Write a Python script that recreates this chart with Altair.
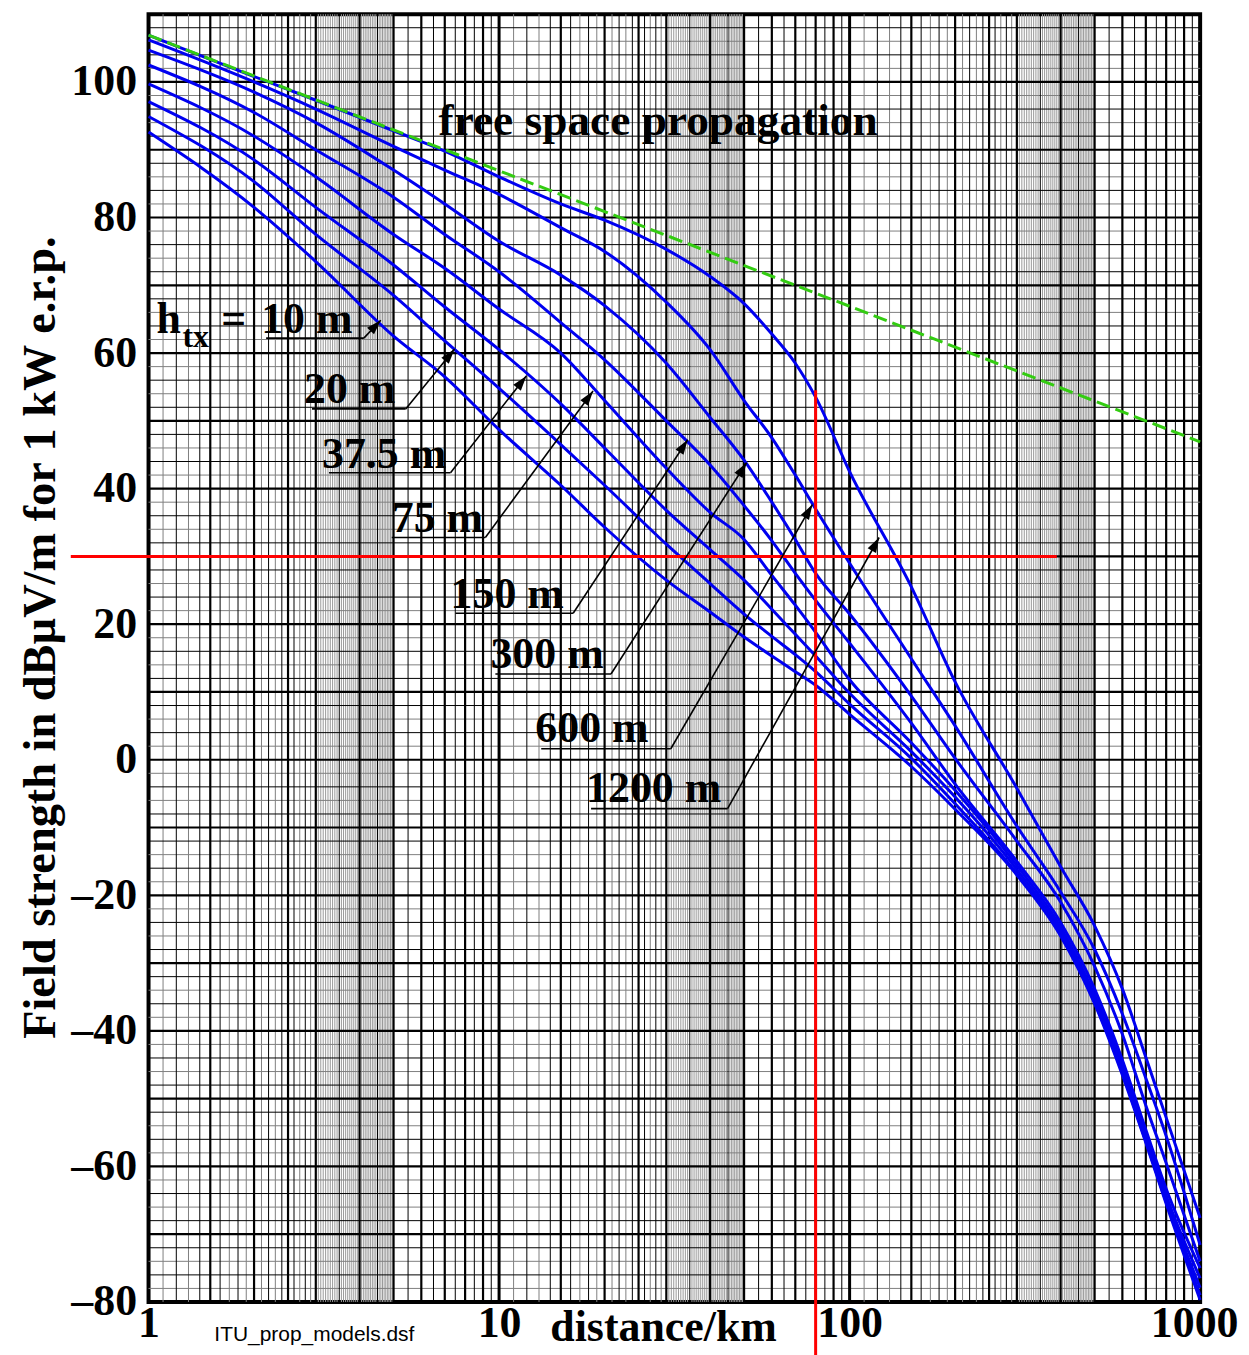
import math
import altair as alt
import pandas as pd

# ---------------- data ----------------
dist_km = [1, 2, 3, 5, 7, 10, 15, 20, 30, 40, 50, 60, 70, 80, 100, 150, 200, 300, 400, 500, 600, 700, 800, 1000]

e_10m = [92.6, 81.5, 73.5, 62.5, 56.5, 48.7, 40.5, 34.3, 26.5, 21.8, 18.1, 15.3, 13.0, 11.0, 6.7, -1.0, -7.3, -17.0, -26.0, -36.0, -46.5, -56.5, -65.5, -79.7]
e_20m = [94.9, 85.3, 77.5, 68.5, 61.8, 54.8, 46.5, 40.5, 31.8, 26.0, 21.5, 18.2, 15.5, 13.0, 8.2, 0.2, -6.5, -16.8, -25.8, -35.8, -46.2, -56.3, -65.2, -79.0]
e_37m = [97.1, 88.5, 81.5, 73.0, 66.8, 60.5, 52.5, 46.0, 36.8, 31.0, 26.5, 22.2, 18.5, 15.3, 9.8, 1.2, -5.5, -16.2, -25.3, -35.3, -45.6, -55.8, -64.8, -77.9]
e_75m = [99.7, 92.0, 86.0, 77.5, 72.5, 66.5, 60.0, 53.0, 43.0, 36.5, 32.5, 27.2, 22.8, 18.8, 11.8, 2.5, -4.5, -15.6, -24.7, -34.7, -45.0, -55.3, -64.3, -76.5]
e_150m = [102.5, 95.5, 90.0, 83.0, 77.5, 72.0, 64.5, 59.0, 50.0, 43.5, 37.5, 32.3, 27.5, 23.5, 17.2, 5.4, -3.6, -15.0, -24.0, -33.8, -44.3, -54.6, -63.3, -75.0]
e_300m = [104.7, 98.5, 94.0, 87.0, 82.0, 76.5, 71.5, 67.0, 58.5, 50.5, 44.2, 38.0, 32.5, 27.5, 21.5, 9.4, 0.2, -12.0, -21.0, -30.5, -40.5, -51.0, -59.5, -74.0]
e_600m = [106.2, 100.0, 96.0, 90.5, 87.0, 83.4, 78.5, 75.0, 67.5, 60.5, 53.0, 47.5, 42.0, 37.0, 29.0, 14.9, 5.0, -9.8, -19.5, -28.0, -37.5, -47.0, -55.5, -71.6]
e_1200m = [106.9, 100.8, 97.3, 92.8, 89.8, 86.0, 82.0, 79.6, 75.3, 71.3, 67.3, 62.8, 58.5, 53.5, 42.5, 25.5, 11.5, -4.2, -15.8, -24.5, -33.8, -43.9, -52.8, -67.6]

series_names = ["10 m", "20 m", "37.5 m", "75 m", "150 m", "300 m", "600 m", "1200 m"]
series_values = [e_10m, e_20m, e_37m, e_75m, e_150m, e_300m, e_600m, e_1200m]

fs_dist = [1, 10, 100, 1000]
fs_e = [106.9, 86.9, 66.9, 46.9]

# red reference cross (30 dB level, 80 km)
red_h_level = 30
red_h_from = 0.6
red_h_to = 390
red_v_dist = 80
red_v_top = 54.5
red_v_bottom = -88

# height labels with underline and arrow
label_text = ["10 m", "20 m", "37.5 m", "75 m", "150 m", "300 m", "600 m", "1200 m"]
label_d = [2.096, 2.777, 3.125, 4.94, 7.27, 9.448, 12.69, 17.71]
label_e = [62.94, 52.65, 43.09, 33.53, 22.35, 13.53, 2.65, -6.18]
ul_start = [2.165, 2.926, 3.271, 4.94, 7.51, 9.76, 13.19, 18.3]
ul_end = [4.113, 5.416, 7.27, 9.14, 16.27, 20.86, 30.9, 44.87]
ul_e = [62.2, 51.76, 42.35, 32.79, 21.62, 12.65, 1.62, -7.21]
tip_d = [4.598, 7.464, 11.96, 18.54, 34.53, 50.82, 78.3, 121.4]
tip_e = [64.85, 60.59, 56.62, 54.41, 47.21, 43.82, 37.65, 32.79]

# ---------------- layout ----------------
W, H = 1055, 1292
X_DEC = W / 3.0
Y_DB = H / 190.0
SERIF = "Liberation Serif"

xs = alt.Scale(type="log", domain=[1, 1000], nice=False)
ys = alt.Scale(domain=[-80, 110], nice=False, zero=False)

xaxis = alt.Axis(values=[1, 10, 100, 1000], format="d", title=None, grid=False, ticks=False,
                 domain=False, labelFont=SERIF, labelFontWeight="bold", labelFontSize=44,
                 labelColor="black", labelPadding=0, labelOverlap=False, labelFlush=False,
                 labelAlign={"condition": {"test": "datum.value >= 1000", "value": "right"},
                             "value": "center"},
                 labelOffset={"condition": {"test": "datum.value >= 1000", "value": 38},
                              "value": 0})
yaxis = alt.Axis(values=list(range(-80, 101, 20)), title="Field strength in dBµV/m for 1 kW e.r.p.",
                 grid=False, ticks=False, domain=False,
                 labelExpr="datum.value < 0 ? '–' + abs(datum.value) : datum.label",
                 labelFont=SERIF, labelFontWeight="bold", labelFontSize=44, labelColor="black",
                 labelPadding=12, titleFont=SERIF, titleFontWeight="bold", titleFontSize=46.5,
                 titleColor="black", titleAngle=270, titleX=-94, titleY=625, titleAlign="center",
                 titleBaseline="alphabetic")


def X(f):
    return alt.X(f, type="quantitative", scale=xs, axis=xaxis)


def Y(f):
    return alt.Y(f, type="quantitative", scale=ys, axis=yaxis)


# ---------------- grid ----------------
def dec(ms):
    out = []
    for k in range(3):
        for m in ms:
            v = round(m * 10 ** k, 6)
            if 1 <= v <= 1000:
                out.append(v)
    return out

x_decade = [10, 100]
x_major = dec([1.5, 2, 2.5, 3, 4, 5, 6, 7, 8, 9])
x_minor_black = dec([1.2, 1.4, 1.6, 1.8, 2.2, 2.4, 2.6, 2.8, 3.5, 4.5, 5.5, 6.5, 7.5, 8.5, 9.5])
dense = [round(3 + 0.05 * i, 2) for i in range(1, 40)]
dense = [m for m in dense if m not in (3.5, 4.0, 4.5)]
x_minor_grey = dec([1.1, 1.3, 1.7, 1.9, 2.1, 2.3, 2.7, 2.9])
x_dense_grey = dec(dense)

y_major = list(range(-70, 101, 10))
y_minor_black = [v for v in range(-78, 110, 2) if v % 10 != 0 and (v // 2) % 2 == 0]
y_minor_grey = [v for v in range(-78, 110, 2) if v % 10 != 0 and (v // 2) % 2 != 0]

layers = []


def vrules(vals, color, width):
    return alt.Chart(pd.DataFrame({"v": vals})).mark_rule(color=color, strokeWidth=width).encode(x=X("v"))


def hrules(vals, color, width):
    return alt.Chart(pd.DataFrame({"v": vals})).mark_rule(color=color, strokeWidth=width).encode(y=Y("v"))

layers += [
    vrules(x_dense_grey, "#9a9a9a", 1),
    vrules(x_minor_grey, "#808080", 1),
    hrules(y_minor_grey, "#808080", 1),
    vrules(x_minor_black, "#000000", 1),
    hrules(y_minor_black, "#000000", 1),
    vrules(x_major, "#000000", 2.2),
    hrules(y_major, "#000000", 2.2),
    vrules(x_decade, "#000000", 3),
]

# ---------------- curves ----------------
rows = []
for name, vals in zip(series_names, series_values):
    for d, e in zip(dist_km, vals):
        rows.append({"h": name, "d": d, "e": e})
curves = pd.DataFrame(rows)

layers.append(
    alt.Chart(curves).mark_line(color="#0000f0", strokeWidth=3, interpolate="monotone")
    .encode(x=X("d"), y=Y("e"), detail="h:N")
)

fs = pd.DataFrame({"d": fs_dist, "e": fs_e})
layers.append(
    alt.Chart(fs).mark_line(color="#33cc11", strokeWidth=3, strokeDash=[14, 6])
    .encode(x=X("d"), y=Y("e"))
)

# ---------------- red cross ----------------
red_h = pd.DataFrame({"d1": [red_h_from], "d2": [red_h_to], "e": [red_h_level]})
layers.append(
    alt.Chart(red_h).mark_rule(color="#ff0000", strokeWidth=3)
    .encode(x=X("d1"), x2="d2", y=Y("e"))
)
red_v = pd.DataFrame({"d": [red_v_dist], "e1": [red_v_top], "e2": [red_v_bottom]})
layers.append(
    alt.Chart(red_v).mark_rule(color="#ff0000", strokeWidth=3)
    .encode(x=X("d"), y=Y("e1"), y2="e2")
)

# ---------------- labels, underlines and arrows ----------------
segs = []
heads = []
for i in range(len(label_text)):
    segs.append({"d1": ul_start[i], "e1": ul_e[i], "d2": ul_end[i], "e2": ul_e[i]})
    segs.append({"d1": ul_end[i], "e1": ul_e[i], "d2": tip_d[i], "e2": tip_e[i]})
    dx = (math.log10(tip_d[i]) - math.log10(ul_end[i])) * X_DEC
    dy = (tip_e[i] - ul_e[i]) * Y_DB
    ang = math.degrees(math.atan2(dx, dy)) % 360
    heads.append({"d": tip_d[i], "e": tip_e[i], "a": ang})
segs = pd.DataFrame(segs)
heads = pd.DataFrame(heads)

layers.append(
    alt.Chart(segs).mark_rule(color="black", strokeWidth=1.6)
    .encode(x=X("d1"), y=Y("e1"), x2="d2", y2="e2")
)
layers.append(
    alt.Chart(heads).mark_point(shape="M0,0L-0.32,1L0.32,1Z", filled=True, color="black",
                                opacity=1, size=900)
    .encode(x=X("d"), y=Y("e"), angle=alt.Angle("a:Q", scale=None))
)

lab = pd.DataFrame({"t": label_text, "d": label_d, "e": label_e})
layers.append(
    alt.Chart(lab).mark_text(font=SERIF, fontWeight="bold", fontSize=44, align="left",
                             baseline="alphabetic", color="black")
    .encode(x=X("d"), y=Y("e"), text="t:N")
)

extra = pd.DataFrame({
    "t": ["h", "=", "distance/km"],
    "d": [1.054, 1.613, 14.0],
    "e": [62.94, 62.94, -85.7],
})
layers.append(
    alt.Chart(extra).mark_text(font=SERIF, fontWeight="bold", fontSize=44, align="left",
                               baseline="alphabetic", color="black")
    .encode(x=X("d"), y=Y("e"), text="t:N")
)
fsp = pd.DataFrame({"t": ["free space propagation"], "d": [6.72], "e": [92.2]})
layers.append(
    alt.Chart(fsp).mark_text(font=SERIF, fontWeight="bold", fontSize=45.5, align="left",
                             baseline="alphabetic", color="black")
    .encode(x=X("d"), y=Y("e"), text="t:N")
)
sub = pd.DataFrame({"t": ["tx"], "d": [1.249], "e": [60.88]})
layers.append(
    alt.Chart(sub).mark_text(font=SERIF, fontWeight="bold", fontSize=32, align="left",
                             baseline="alphabetic", color="black")
    .encode(x=X("d"), y=Y("e"), text="t:N")
)
fname = pd.DataFrame({"t": ["ITU_prop_models.dsf"], "d": [1.541], "e": [-85.7]})
layers.append(
    alt.Chart(fname).mark_text(font="Liberation Sans", fontSize=21, align="left",
                               baseline="alphabetic", color="black")
    .encode(x=X("d"), y=Y("e"), text="t:N")
)

chart = (
    alt.layer(*layers)
    .properties(width=W, height=H, autosize=alt.AutoSizeParams(type="none"),
                padding={"left": 141, "top": 4, "right": 41, "bottom": 51},
                background="white")
    .configure_view(stroke="black", strokeWidth=4)
)

chart.save("out.html", embed_options={"renderer": "svg", "actions": False})
